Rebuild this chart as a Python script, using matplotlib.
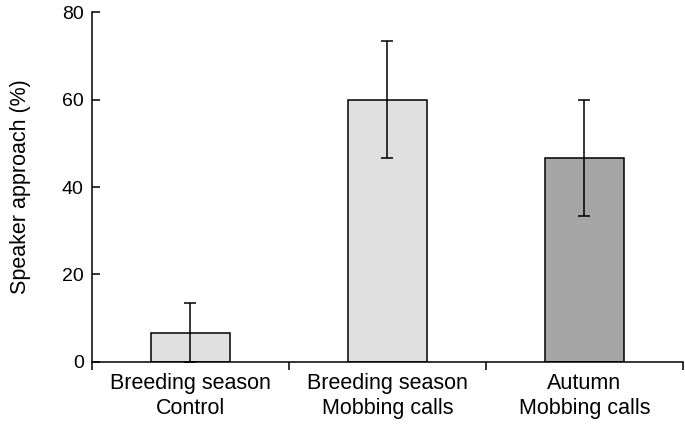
import matplotlib
matplotlib.use('Agg')
import matplotlib.pyplot as plt
import numpy as np

plt.rcParams['font.family'] = ['Liberation Sans', 'DejaVu Sans']

# data
categories = ['Breeding season\nControl', 'Breeding season\nMobbing calls', 'Autumn\nMobbing calls']
approach = [6.67, 60.0, 46.67]
err = [6.67, 13.33, 13.33]
bar_colors = ['#e0e0e0', '#e0e0e0', '#a6a6a6']

fig = plt.figure(figsize=(6.85, 4.26), dpi=100)
ax = fig.add_axes([0.1343, 0.151, 0.8627, 0.82])

x = np.arange(len(categories))
ax.bar(x, approach, width=0.4, color=bar_colors, edgecolor='black', linewidth=1.1, zorder=2)
ax.errorbar(x, approach, yerr=err, fmt='none', ecolor='black', elinewidth=1.1,
            capsize=4, capthick=1.1, zorder=3)

ax.set_xlim(-0.5, len(categories) - 0.5)
ax.set_ylim(0, 80)
ax.set_yticks([0, 20, 40, 60, 80])
ax.tick_params(axis='y', direction='in', length=6, width=1.1, labelsize=14, pad=6)

# category labels centred, ticks on the boundaries
ax.set_xticks(np.arange(len(categories) + 1) - 0.5)
ax.set_xticklabels([])
ax.set_xticks(x, minor=True)
ax.set_xticklabels(categories, minor=True, fontsize=15.5, linespacing=1.25)
ax.tick_params(axis='x', which='major', direction='out', length=6, width=1.1)
ax.tick_params(axis='x', which='minor', length=0, pad=8)

ax.set_ylabel('Speaker approach (%)', fontsize=15.5, labelpad=22)

for s in ['top', 'right']:
    ax.spines[s].set_visible(False)
for s in ['left', 'bottom']:
    ax.spines[s].set_linewidth(1.1)

fig.savefig('out.png', dpi=100)
